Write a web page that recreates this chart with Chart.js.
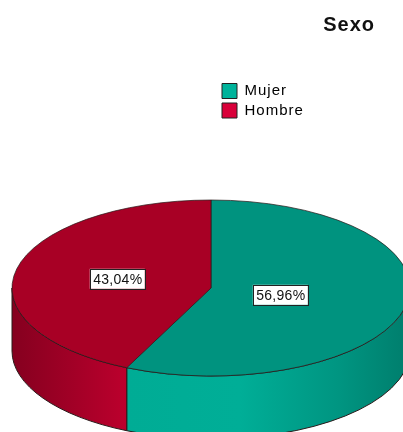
<!DOCTYPE html>
<html><head><meta charset="utf-8">
<style>html,body{margin:0;padding:0;background:#fff;overflow:hidden}canvas{display:block}</style>
<script src="https://cdn.jsdelivr.net/npm/chart.js@4"></script>
</head><body>
<canvas id="c" width="403" height="432"></canvas>
<script>
const titleText = 'Sexo';
const categories = ['Mujer', 'Hombre'];
const percentages = [56.96, 43.04];

const faceColors = ['#00937F', '#A80025'];
const legendColors = ['#00B39B', '#D9003A'];
const wallStops = [
  [[0, '#00AC95'], [0.4, '#00AE97'], [0.75, '#009581'], [1, '#007D6C']],
  [[0, '#85001F'], [0.5, '#A00026'], [1, '#BC002D']]
];
const EDGE = '#2a1a1a';
const CX = 211, CY = 288, RX = 199, RY = 88, DEPTH = 63;
const labelRadius = [71, 96];

function faceTransform(ctx, arc) {
  ctx.translate(CX, CY);
  ctx.scale(1, RY / RX);
  ctx.translate(-arc.x, -arc.y);
}

const pie3d = {
  id: 'pie3d',
  beforeDraw(chart) { chart.ctx.letterSpacing = '1px'; },
  afterLayout(chart) {
    const t = chart.titleBlock;
    t.left = 275; t.right = 375; t.top = 13; t.bottom = 39;
    const l = chart.legend;
    const w = l.width, h = l.height;
    l.left = 217.5; l.right = 217.5 + w; l.top = 79; l.bottom = 79 + h;
  },
  beforeDatasetsDraw(chart) {
    const ctx = chart.ctx;
    chart.getDatasetMeta(0).data.forEach((arc, i) => {
      const a0 = Math.max(arc.startAngle, 0), a1 = Math.min(arc.endAngle, Math.PI);
      if (a1 <= a0) return;
      const x0 = CX + RX * Math.cos(a1), x1 = CX + RX * Math.cos(a0);
      const g = ctx.createLinearGradient(x0, 0, x1, 0);
      wallStops[i].forEach(s => g.addColorStop(s[0], s[1]));
      ctx.save();
      ctx.beginPath();
      ctx.ellipse(CX, CY, RX, RY, 0, a0, a1);
      ctx.ellipse(CX, CY + DEPTH, RX, RY, 0, a1, a0, true);
      ctx.closePath();
      ctx.fillStyle = g;
      ctx.fill();
      ctx.strokeStyle = EDGE;
      ctx.lineWidth = 1;
      ctx.stroke();
      ctx.restore();
    });
  },
  beforeDatasetDraw(chart) {
    const ctx = chart.ctx;
    ctx.save();
    faceTransform(ctx, chart.getDatasetMeta(0).data[0]);
  },
  afterDatasetDraw(chart) { chart.ctx.restore(); },
  afterDatasetsDraw(chart) {
    const ctx = chart.ctx;
    chart.getDatasetMeta(0).data.forEach((arc, i) => {
      const mid = (arc.startAngle + arc.endAngle) / 2;
      const x = CX + labelRadius[i] * Math.cos(mid);
      const y = CY + labelRadius[i] * (RY / RX) * Math.sin(mid);
      const text = percentages[i].toFixed(2).replace('.', ',') + '%';
      ctx.save();
      ctx.letterSpacing = '0.3px';
      ctx.fillStyle = '#fff';
      ctx.strokeStyle = '#222';
      ctx.lineWidth = 1;
      ctx.fillRect(x - 27.5, y - 10, 55, 20);
      ctx.strokeRect(Math.round(x - 27.5) + 0.5, Math.round(y - 10) + 0.5, 55, 20);
      ctx.fillStyle = '#111';
      ctx.font = '14px "Liberation Sans"';
      ctx.textAlign = 'center';
      ctx.textBaseline = 'middle';
      ctx.fillText(text, x + 0.5, y + 1);
      ctx.restore();
    });
  }
};

new Chart(document.getElementById('c'), {
  type: 'pie',
  data: {
    labels: categories,
    datasets: [{
      data: percentages,
      backgroundColor: faceColors,
      borderColor: EDGE,
      borderWidth: 1,
      radius: RX,
      clip: false
    }]
  },
  options: {
    responsive: false,
    animation: false,
    rotation: 0,
    plugins: {
      tooltip: { enabled: false },
      title: {
        display: true,
        text: titleText,
        color: '#111',
        align: 'end',
        font: { family: '"Liberation Sans"', size: 20, weight: 'bold' },
        padding: 0
      },
      legend: {
        display: true,
        position: 'right',
        align: 'start',
        labels: {
          boxWidth: 15,
          boxHeight: 15,
          padding: 4.5,
          color: '#333',
          font: { family: '"Liberation Sans"', size: 15 },
          generateLabels: () => categories.map((c, i) => ({
            text: c,
            fillStyle: legendColors[i],
            strokeStyle: '#222',
            lineWidth: 1,
            hidden: false,
            index: i
          }))
        }
      }
    }
  },
  plugins: [pie3d]
});
</script>
</body></html>
